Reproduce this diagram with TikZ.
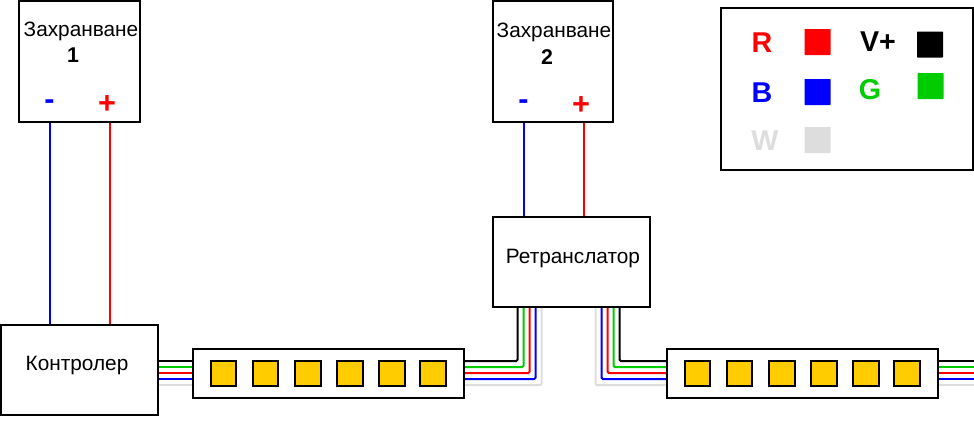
\documentclass[tikz,border=0pt]{standalone}
\usepackage{fontspec}
\setmainfont{Liberation Sans}
\definecolor{wgreen}{HTML}{00CC00}
\definecolor{wgrey}{HTML}{DDDDDD}
\definecolor{ledc}{HTML}{FFCC00}
\tikzset{
 boxnode/.style={draw=black,line width=1.5pt,fill=white,rectangle,inner sep=0pt,minimum width=#1},
 led/.style={draw=black,line width=1.5pt,fill=ledc,minimum size=19pt,inner sep=0pt},
 swatch/.style={fill=#1,minimum size=19.5pt,inner sep=0pt,rounded corners=0.5pt},
 lbl/.style={inner sep=0pt,font=\fontsize{15.6}{17}\selectfont},
 numb/.style={inner sep=0pt,font=\fontsize{16}{18}\selectfont\bfseries},
 leg/.style={inner sep=0pt,font=\fontsize{21.5}{23}\selectfont\bfseries,text=#1},
 sign/.style={inner sep=0pt,font=\fontsize{23}{25}\selectfont\bfseries,text=#1},
 wire/.style={line width=1.5pt,draw=#1,rounded corners=1pt},
}
\begin{document}
\begin{tikzpicture}[x=0.75pt,y=-0.75pt]
\useasboundingbox (0,0) rectangle (974,421);
\foreach \n/\y in {k/361,g/367,r/373,b/379,w/385}{
  \coordinate (ce\n) at (158,\y);
  \coordinate (sa\n) at (193,\y);
  \coordinate (sb\n) at (464,\y);
  \coordinate (sc\n) at (667,\y);
  \coordinate (sd\n) at (938,\y);
  \coordinate (end\n) at (974,\y);
}
\foreach \n/\x/\xx in {k/517.5/619.5,g/523.5/613.5,r/529.5/607.5,b/535.5/601.5,w/541.5/595.5}{
  \coordinate (ra\n) at (\x,307);
  \coordinate (rb\n) at (\xx,307);
}
\coordinate (s1m) at (49.5,122);   \coordinate (c1m) at (49.5,325);
\coordinate (s1p) at (109.5,122);  \coordinate (c1p) at (109.5,325);
\coordinate (s2m) at (523.5,122);  \coordinate (r2m) at (523.5,217);
\coordinate (s2p) at (583.5,122);  \coordinate (r2p) at (583.5,217);

\draw[wire=blue] (s1m) -- (c1m);
\draw[wire=red] (s1p) -- (c1p);
\draw[wire=blue] (s2m) -- (r2m);
\draw[wire=red] (s2p) -- (r2p);
\foreach \n/\c in {w/wgrey,k/black,g/wgreen,r/red,b/blue}{
  \draw[wire=\c] (ce\n) -- (sa\n);
  \draw[wire=\c] (sb\n) -| (ra\n);
  \draw[wire=\c] (rb\n) |- (sc\n);
  \draw[wire=\c] (sd\n) -- (end\n);
}

\node[boxnode=90.75pt,minimum height=90.75pt] (store1) at (79.5,61.5) {};
\node[boxnode=90pt,minimum height=90.75pt] (store2) at (553,61.5) {};
\node[boxnode=117.75pt,minimum height=67.5pt] (rep) at (571.5,262) {};
\node[boxnode=117.75pt,minimum height=67.5pt] (ctrl) at (79.5,370) {};
\node[boxnode=203.25pt,minimum height=36.75pt] (strip1) at (328.5,373.5) {};
\node[boxnode=203.25pt,minimum height=36.75pt] (strip2) at (802.5,373.5) {};
\node[boxnode=189pt,minimum height=121.5pt] (legend) at (847,89) {};

\foreach \i/\x in {1/223.5,2/265.5,3/308,4/350,5/392,6/433}{
  \node[led] (la\i) at (\x,373.5) {};
  \node[led] (lb\i) at (\x+474,373.5) {};
}

\node[lbl] (t1) at (81,31) {Захранване};
\node[numb] (n1) at (73,55.5) {1};
\node[sign=blue] (m1) at (49.5,105) {-};
\node[sign=red] (p1) at (107,104.5) {+};
\node[lbl] (t2) at (554,32) {Захранване};
\node[numb] (n2) at (547,57) {2};
\node[sign=blue] (m2) at (523.5,105) {-};
\node[sign=red] (p2) at (581,105.5) {+};
\node[lbl] (t3) at (573,258) {Ретранслатор};
\node[lbl] (t4) at (77,365) {Контролер};

\node[leg=red] (lr) at (762,43) {R};
\node[leg=blue] (lbb) at (762,92.5) {B};
\node[leg=wgrey] (lw) at (765,140.5) {W};
\node[leg=black] (lv) at (878,42) {V+};
\node[leg=wgreen] (lg) at (870,90) {G};
\node[swatch=red] (sr) at (817.5,42) {};
\node[swatch=blue] (sbb) at (817.5,92) {};
\node[swatch=wgrey] (sw) at (817.5,140) {};
\node[swatch=black] (sk) at (930,44.5) {};
\node[swatch=wgreen] (sg) at (930.5,86) {};
\end{tikzpicture}
\end{document}
